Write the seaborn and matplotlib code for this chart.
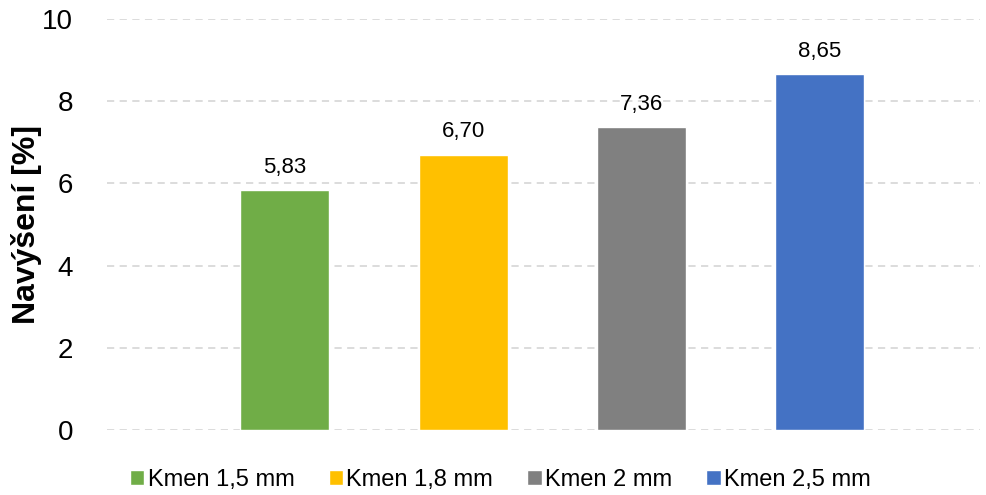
import matplotlib
matplotlib.use("Agg")
import matplotlib.pyplot as plt
import seaborn as sns
import pandas as pd
from matplotlib.patches import Patch

labels = ["Kmen 1,5 mm", "Kmen 1,8 mm", "Kmen 2 mm", "Kmen 2,5 mm"]
values = [5.83, 6.70, 7.36, 8.65]
colors = ["#70AD47", "#FFC000", "#808080", "#4472C4"]
yticks = [0, 2, 4, 6, 8, 10]

sns.set_theme(style="white")
plt.rcParams['font.family'] = ['Liberation Sans', 'DejaVu Sans']
plt.rcParams['text.color'] = 'black'
plt.rcParams['axes.labelcolor'] = 'black'
plt.rcParams['ytick.color'] = 'black'

fig = plt.figure(figsize=(9.87, 4.95), dpi=100)
ax = fig.add_axes([0.108, 0.131, 0.885, 0.831])

df = pd.DataFrame({"label": labels, "value": values})
sns.barplot(data=df, x="label", y="value", hue="label", palette=colors,
            width=0.5, legend=False, ax=ax, saturation=1, zorder=3)

ax.set_ylim(0, 10)
ax.set_xlim(-1.0, 3.9)
ax.set_yticks(yticks)
ax.set_yticklabels([str(t) for t in yticks], fontsize=20)
ax.set_xticks([])
ax.set_xlabel("")
ax.set_ylabel("Navýšení [%]", fontsize=23, fontweight="bold")
ax.yaxis.set_label_coords(-0.074, 0.5)
ax.tick_params(axis="y", length=0, pad=24)
for s in ax.spines.values():
    s.set_visible(False)
ax.yaxis.grid(True, color="#D9D9D9", linestyle=(0, (4, 3)), linewidth=1.3, zorder=0)

for c in ax.containers:
    ax.bar_label(c, labels=[f"{v:.2f}".replace(".", ",") for v in c.datavalues],
                 padding=9, fontsize=16, color="black")

handles = [Patch(facecolor=c, label=l) for c, l in zip(colors, labels)]
fig.legend(handles=handles, loc="center", bbox_to_anchor=(0.507, 0.03), ncol=4,
           frameon=False, fontsize=17, handlelength=0.6, handleheight=0.6,
           handletextpad=0.15, columnspacing=1.45)

fig.savefig("out.png", dpi=100)
